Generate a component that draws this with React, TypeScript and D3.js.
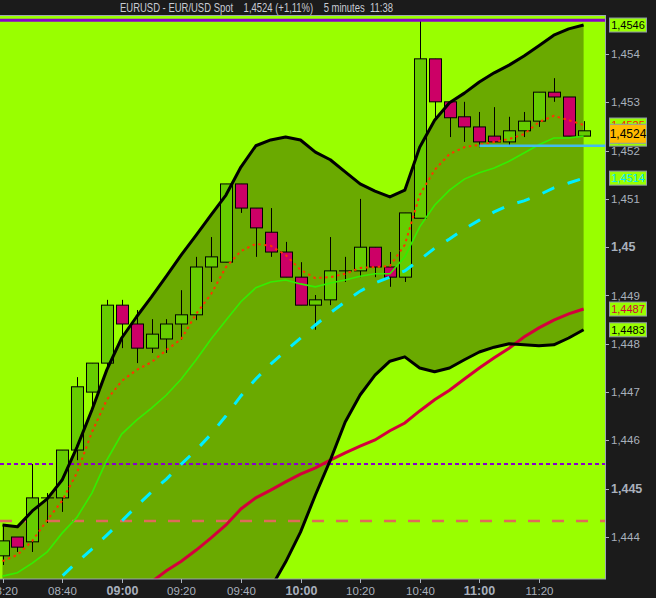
import React from "react";
import * as d3 from "d3";

const times = [
  "08:20","08:25","08:30","08:35","08:40","08:45","08:50","08:55",
  "09:00","09:05","09:10","09:15","09:20","09:25","09:30","09:35","09:40","09:45","09:50","09:55",
  "10:00","10:05","10:10","10:15","10:20","10:25","10:30","10:35","10:40","10:45","10:50","10:55",
  "11:00","11:05","11:10","11:15","11:20","11:25","11:30","11:35",
];

const opens = [1.44361,1.444,1.4439,1.44481,1.44481,1.4458,1.447,1.4476,1.4488,1.44841,1.44791,1.4481,1.44841,1.4486,1.44959,1.44969,1.45131,1.45081,1.45031,1.4499,1.44938,1.4488,1.44891,1.44951,1.44951,1.45,1.44959,1.44938,1.4506,1.4539,1.45301,1.4527,1.45249,1.4523,1.45218,1.45241,1.45261,1.45321,1.45311,1.4523];
const highs = [1.44425,1.444,1.44551,1.44491,1.4458,1.44731,1.4476,1.44891,1.44891,1.4487,1.44851,1.44851,1.44911,1.4498,1.45021,1.45131,1.45131,1.45081,1.45081,1.45011,1.44969,1.44901,1.45021,1.4498,1.451,1.45,1.4499,1.45071,1.4547,1.4539,1.45301,1.45301,1.4528,1.4529,1.4527,1.4528,1.45321,1.4535,1.45311,1.45261];
const lows = [1.44342,1.44369,1.44369,1.44429,1.44452,1.44559,1.44669,1.44746,1.44791,1.4476,1.44781,1.44781,1.44808,1.44849,1.44928,1.44969,1.45071,1.4498,1.4498,1.44938,1.4488,1.44829,1.4488,1.44928,1.44938,1.44938,1.44918,1.44928,1.4506,1.45268,1.45228,1.45218,1.45207,1.45218,1.45212,1.45228,1.45249,1.45301,1.4523,1.4523];
const closes = [1.44392,1.44379,1.44481,1.44481,1.4458,1.44711,1.4476,1.4488,1.44841,1.44791,1.4482,1.44841,1.4486,1.44959,1.4498,1.45131,1.45081,1.4504,1.4499,1.44938,1.4488,1.44891,1.44951,1.44951,1.45,1.44959,1.44938,1.45071,1.4539,1.45301,1.45268,1.45249,1.45218,1.45218,1.45241,1.45261,1.45321,1.45311,1.4523,1.45241];

const upperBand = [1.44425,1.44421,1.44454,1.44479,1.44518,1.44586,1.44663,1.44746,1.44812,1.44856,1.44897,1.4494,1.44984,1.45025,1.45067,1.45108,1.45166,1.4521,1.45222,1.45228,1.45222,1.45197,1.45181,1.45156,1.45131,1.45116,1.45104,1.45118,1.45207,1.45263,1.45299,1.45319,1.45342,1.45361,1.45377,1.45396,1.45417,1.45439,1.45452,1.4546];
const lowerBand = [1.4399,1.44052,1.44077,1.44106,1.44121,1.4411,1.44087,1.44063,1.44054,1.44073,1.44089,1.441,1.44118,1.44135,1.4416,1.44193,1.44218,1.44245,1.44294,1.44348,1.4441,1.44487,1.44559,1.44638,1.44694,1.44735,1.44764,1.44773,1.4475,1.44742,1.4475,1.44767,1.44783,1.44793,1.448,1.44798,1.44796,1.44798,1.44812,1.44829];
const midBand = [1.44208,1.44236,1.44265,1.44292,1.44319,1.44348,1.44375,1.44404,1.44433,1.44464,1.44493,1.4452,1.44551,1.4458,1.44613,1.44651,1.44692,1.44727,1.44758,1.44785,1.44812,1.44839,1.44864,1.44887,1.44909,1.44926,1.44938,1.44951,1.44974,1.44998,1.45017,1.45038,1.45056,1.45073,1.45087,1.45096,1.45108,1.45123,1.45133,1.45143];
const greenMA = [1.44319,1.44326,1.44346,1.44369,1.44408,1.44441,1.44491,1.44559,1.44613,1.44642,1.44667,1.44694,1.44727,1.44767,1.4481,1.44849,1.44887,1.44916,1.44928,1.44932,1.44924,1.44918,1.44926,1.44932,1.4494,1.44945,1.44945,1.4498,1.45042,1.45087,1.45118,1.45141,1.45154,1.45164,1.45178,1.45195,1.45212,1.45226,1.45226,1.4523];
const redMA = [1.4435,1.44363,1.44392,1.44435,1.44475,1.44533,1.44617,1.44684,1.44723,1.44746,1.44762,1.44787,1.4481,1.44862,1.44903,1.44959,1.44992,1.45007,1.45003,1.44984,1.44953,1.44936,1.44938,1.44945,1.44957,1.44959,1.44961,1.45005,1.45108,1.4516,1.45193,1.45207,1.45212,1.45218,1.45224,1.45234,1.45259,1.45272,1.45263,1.45253];
const crimsonMA = [1.44079,1.44102,1.44125,1.44147,1.4417,1.44193,1.44216,1.44239,1.44261,1.44284,1.44307,1.4433,1.4435,1.44373,1.44398,1.44425,1.44458,1.44481,1.44497,1.44514,1.4453,1.44543,1.44559,1.44574,1.44588,1.44601,1.4462,1.44636,1.44661,1.44684,1.44704,1.44727,1.4475,1.44771,1.44791,1.44814,1.44833,1.44849,1.44862,1.44872];

const topLevel = 1.4547;
const dottedLevel = 1.44551;
const dashedLevel = 1.44433;
const blueLevel = 1.4521;
const blueStart = "11:00";

const yTicks = [1.454,1.453,1.452,1.451,1.45,1.449,1.448,1.447,1.446,1.445,1.444];
const yTickLabels = ["1,454","1,453","1,452","1,451","1,45","1,449","1,448","1,447","1,446","1,445","1,444"];
const yTickBold = [false,false,false,false,true,false,false,false,false,true,false];
const xTickLabels = ["08:20","08:40","09:00","09:20","09:40","10:00","10:20","10:40","11:00","11:20"];

const titleText = "EURUSD - EUR/USD Spot    1,4524 (+1,11%)    5 minutes  11:38";

const W = 656, H = 598;
const P = { left: 0, top: 16, right: 605, bottom: 579 };
const BG = "#1b1b1b";
const LIME = "#99ff00";
const FILL = "#6aaa00";
const AXIS = "#a9b1bd";
const FONT = "'Liberation Sans', Arial, sans-serif";

const fmt = (v: number) => d3.format(".4f")(v).replace(".", ",");

export default function App() {
  const x = d3.scalePoint<string>().domain(times).range([2.5, 583.6]);
  const y = d3.scaleLinear().domain([1.444, 1.454]).range([537, 54]);
  const xi = (i: number) => x(times[i]) as number;

  const line = d3.line<number>().x((_, i) => xi(i)).y((d) => y(d));
  const area = d3
    .area<number>()
    .x((_, i) => xi(i))
    .y0((_, i) => y(lowerBand[i]))
    .y1((d) => y(d));

  const last = times.length - 1;
  const bw = 12;

  const label = (v: number, cy: number, h: number, bg: string, fg: string, fs: number, key: string) => (
    <g key={key}>
      <rect x={609.5} y={cy - h / 2} width={37} height={h} fill={bg} stroke="#8e9aa8" strokeWidth={1} />
      <text x={628} y={cy + fs * 0.36} fontSize={fs} fill={fg} textAnchor="middle" fontFamily={FONT}>
        {fmt(v)}
      </text>
    </g>
  );

  return (
    <svg width={W} height={H} style={{ position: "absolute", left: 0, top: 0, display: "block" }}>
      <defs>
        <clipPath id="plotClip">
          <rect x={P.left} y={P.top} width={P.right - P.left} height={P.bottom - P.top} />
        </clipPath>
      </defs>
      <rect x={0} y={0} width={W} height={H} fill={BG} />

      {/* title */}
      <text
        x={120}
        y={12}
        fontFamily={FONT}
        fontSize={13}
        fill="#c8ccd4"
        textLength={273}
        lengthAdjust="spacingAndGlyphs"
        style={{ whiteSpace: "pre" }}
      >
        {titleText}
      </text>

      {/* plot */}
      <rect x={P.left} y={P.top} width={P.right - P.left} height={P.bottom - P.top} fill={LIME} />
      <g clipPath="url(#plotClip)">
        <path d={area(upperBand) || ""} fill={FILL} />
        <line x1={P.left} x2={P.right} y1={y(dashedLevel)} y2={y(dashedLevel)} stroke="#e06a5a" strokeWidth={2.5} strokeDasharray="12,12" />
        <line x1={P.left} x2={P.right} y1={y(dottedLevel)} y2={y(dottedLevel)} stroke="#8a00cc" strokeWidth={2} strokeDasharray="4,3" />

        {/* candles */}
        {times.map((t, i) => {
          const o = opens[i], c = closes[i];
          const up = c >= o;
          const cx = Math.round(xi(i)) + 0.5;
          const top = y(Math.max(o, c));
          const bot = y(Math.min(o, c));
          return (
            <g key={t}>
              <line x1={cx} x2={cx} y1={y(highs[i])} y2={y(lows[i])} stroke="#000" strokeWidth={1} />
              <rect
                x={cx - bw / 2}
                y={top}
                width={bw}
                height={Math.max(bot - top, 0.01)}
                fill={up ? "#66cc00" : "#cc0066"}
                stroke="#000"
                strokeWidth={1}
              />
            </g>
          );
        })}

        <path d={line(crimsonMA) || ""} fill="none" stroke="#d4003c" strokeWidth={3} />
        <path d={line(midBand) || ""} fill="none" stroke="#00eeff" strokeWidth={3} strokeDasharray="13,14" />
        <path d={line(greenMA) || ""} fill="none" stroke="#33ee00" strokeWidth={1.6} />
        <path d={line(redMA) || ""} fill="none" stroke="#ff3300" strokeWidth={2} strokeDasharray="2.5,3.5" />
        <path d={line(upperBand) || ""} fill="none" stroke="#000" strokeWidth={3} strokeLinejoin="round" />
        <path d={line(lowerBand) || ""} fill="none" stroke="#000" strokeWidth={3} strokeLinejoin="round" />
        <line x1={x(blueStart) as number} x2={P.right} y1={y(blueLevel)} y2={y(blueLevel)} stroke="#44bbee" strokeWidth={2.5} />
        <line x1={P.left} x2={P.right} y1={y(topLevel)} y2={y(topLevel)} stroke="#8a00cc" strokeWidth={3} />
      </g>
      <rect x={P.left - 1} y={P.top - 0.5} width={P.right - P.left + 1.5} height={P.bottom - P.top + 0.5} fill="none" stroke="#9aa4b0" strokeWidth={1} />

      {/* y axis */}
      <g fontFamily={FONT} fill={AXIS}>
        {yTicks.map((v, i) => (
          <g key={yTickLabels[i]}>
            <line x1={P.right} x2={P.right + 4} y1={Math.round(y(v)) + 0.5} y2={Math.round(y(v)) + 0.5} stroke={AXIS} />
            <text x={611} y={y(v) + 4} fontSize={yTickBold[i] ? 12.5 : 11.5} fontWeight={yTickBold[i] ? "bold" : "normal"}>
              {yTickLabels[i]}
            </text>
          </g>
        ))}
      </g>

      {/* x axis */}
      <g fontFamily={FONT} fill={AXIS}>
        {xTickLabels.map((t) => {
          const px = Math.round(x(t) as number) + 0.5;
          const bold = t.endsWith(":00");
          return (
            <g key={t}>
              <line x1={px} x2={px} y1={P.bottom} y2={P.bottom + 4} stroke={AXIS} />
              <text x={px} y={595} textAnchor="middle" fontSize={bold ? 12.5 : 11.5} fontWeight={bold ? "bold" : "normal"}>
                {t}
              </text>
            </g>
          );
        })}
      </g>

      {/* value labels */}
      {label(redMA[last], y(redMA[last]), 14, LIME, "#ff2200", 11, "red")}
      {label(greenMA[last], y(greenMA[last]) + 3, 14, LIME, "#22dd00", 11, "green")}
      {label(closes[last], y(closes[last]) + 3, 19, "#ffbb00", "#000", 12, "close")}
      {label(upperBand[last], y(upperBand[last]), 14, LIME, "#000", 11, "upper")}
      {label(midBand[last], y(midBand[last]), 14, LIME, "#00e5ff", 11, "mid")}
      {label(crimsonMA[last], y(crimsonMA[last]), 14, LIME, "#d4003c", 11, "crimson")}
      {label(lowerBand[last], y(lowerBand[last]), 14, LIME, "#000", 11, "lower")}
    </svg>
  );
}
